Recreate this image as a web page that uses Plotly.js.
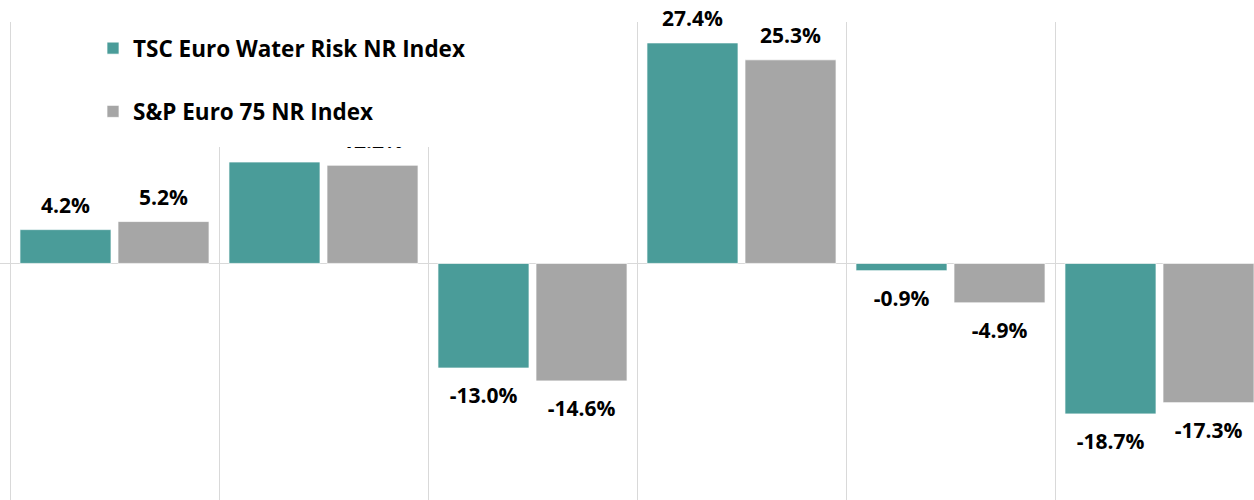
<!DOCTYPE html>
<html>
<head>
<meta charset="utf-8">
<script src="https://cdn.plot.ly/plotly-3.0.1.min.js"></script>
<style>html,body{margin:0;padding:0;background:#fff;}#chart{width:1254px;height:500px;}</style>
</head>
<body>
<div id="chart"></div>
<script>
// ---- data ----
const seriesNames = ["TSC Euro Water Risk NR Index", "S&P Euro 75 NR Index"];
const tscValues = [4.2, 12.6, -13.0, 27.4, -0.9, -18.7];
const spValues  = [5.2, 12.2, -14.6, 25.3, -4.9, -17.3];

// ---- style ----
const colors = ["#4A9C99", "#A6A6A6"];
const gridColor = "#D9D9D9";
const FONT = "Open Sans, Noto Sans, sans-serif";
const bargap = 0.062, bargroupgap = 0.0714;
const halfOffset = (1 - bargap) / 4;
const idx = tscValues.map((_, i) => i);

function barTrace(vals, k) {
  return {
    type: "bar", x: idx, y: vals, name: seriesNames[k],
    legendgroup: "g" + k,
    marker: {color: colors[k], line: {color: "rgba(255,255,255,0.7)", width: 1}},
    hoverinfo: "skip"
  };
}
function labelTrace(vals, k) {
  const sign = k === 0 ? -1 : 1;
  return {
    type: "scatter", mode: "markers+text",
    x: idx.map(i => i + sign * halfOffset), y: vals,
    text: vals.map(v => v.toFixed(1) + "%"),
    textposition: vals.map(v => v >= 0 ? "top center" : "bottom center"),
    textfont: {family: FONT, size: 21, color: "#000", weight: "bold"},
    marker: {size: vals.map(v => v >= 0 ? 17 : 29), opacity: 0},
    showlegend: false, hoverinfo: "skip", cliponaxis: false
  };
}

const data = [barTrace(tscValues, 0), barTrace(spValues, 1),
              labelTrace(tscValues, 0), labelTrace(spValues, 1)];

const W = 1254, H = 500, mt = 22;
const groupPx = 209, leftGrid = 10;
const x0 = -0.5 - leftGrid / groupPx;
const x1 = -0.5 + (W - leftGrid) / groupPx;
const plotH = H - mt;

const layout = {
  width: W, height: H,
  margin: {l: 0, r: 0, t: mt, b: 0, pad: 0},
  paper_bgcolor: "#fff", plot_bgcolor: "#fff",
  barmode: "group", bargap: bargap, bargroupgap: bargroupgap,
  font: {family: FONT, color: "#000"},
  xaxis: {
    type: "linear", range: [x0, x1],
    tickvals: idx.concat([idx.length]).map(i => i - 0.5),
    showticklabels: false, ticks: "", showgrid: true, gridcolor: gridColor, gridwidth: 1,
    zeroline: false, showline: false, fixedrange: true
  },
  yaxis: {
    range: [-29.4, 30], showgrid: false, showticklabels: false, ticks: "",
    zeroline: true, zerolinecolor: gridColor, zerolinewidth: 1, showline: false, fixedrange: true
  },
  showlegend: true,
  legend: {
    x: 93 / W, xanchor: "left", y: 1 - 5 / plotH, yanchor: "top",
    bgcolor: "rgba(0,0,0,0)", borderwidth: 0,
    font: {family: FONT, size: 22.5, color: "#000", weight: "bold"},
    traceorder: "grouped", tracegroupgap: 31
  },
  shapes: [{
    type: "rect", xref: "paper", yref: "paper", layer: "above",
    x0: 12 / W, x1: 480 / W, y0: (H - 147) / plotH, y1: (H + 5) / plotH,
    fillcolor: "#fff", line: {width: 0}
  }]
};

Plotly.newPlot("chart", data, layout, {displayModeBar: false, staticPlot: true});
</script>
</body>
</html>
